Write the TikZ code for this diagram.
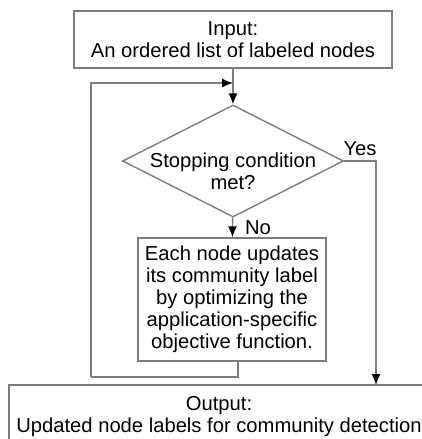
\documentclass[tikz,border=0pt]{standalone}
\usepackage{fontspec}
\setmainfont{Liberation Sans}
\usepackage{tikz}
\usetikzlibrary{shapes.geometric,arrows.meta}
\definecolor{linegray}{RGB}{125,125,125}
\tikzset{
  box/.style={draw=linegray, line width=0.7pt, rectangle, inner sep=0pt, align=center},
  decision/.style={draw=linegray, line width=0.7pt, diamond, inner sep=0pt,
    minimum width=110.5pt, minimum height=56pt},
  flow/.style={draw=linegray, line width=0.7pt, -{Latex[length=5.5pt,width=4.5pt,color=black]}},
  plain/.style={draw=linegray, line width=0.7pt},
}

\begin{document}
\begin{tikzpicture}[x=0.5pt, y=-0.5pt, font=\fontsize{10.1}{11}\selectfont]
\useasboundingbox (0,0) rectangle (422,439);
\clip (0,0) rectangle (422,439);
\node[box, minimum width=159pt, minimum height=28.5pt] (input) at (233,39.5)
  {Input:\\An ordered list of labeled nodes};
\node[decision] (stop) at (233,161) {};
\node[align=center] (stoptext) at (233,171) {Stopping condition\\met?};
\node[box, minimum width=94pt, minimum height=61.5pt] (update) at (232,299.5)
  {Each node updates\\its community label\\by optimizing the\\application-specific\\objective function.};
\node[box, minimum width=210pt, minimum height=32pt] (output) at (219,417)
  {Output:\\Updated node labels for community detection};
\coordinate (join) at (233,83);
\coordinate (loopturn) at (91,377);
\coordinate (yesend) at (376,385);
\node (yes) at (360,149) {Yes};
\node (no) at (258,228) {No};

\draw[flow] (input) -- (stop);
\draw[flow] (stop) -- (update);
\draw[plain] ([xshift=3pt]update.south) |- (loopturn);
\draw[flow] (loopturn) |- (join);
\draw[flow] (stop.east) -| (yesend);
\end{tikzpicture}
\end{document}
